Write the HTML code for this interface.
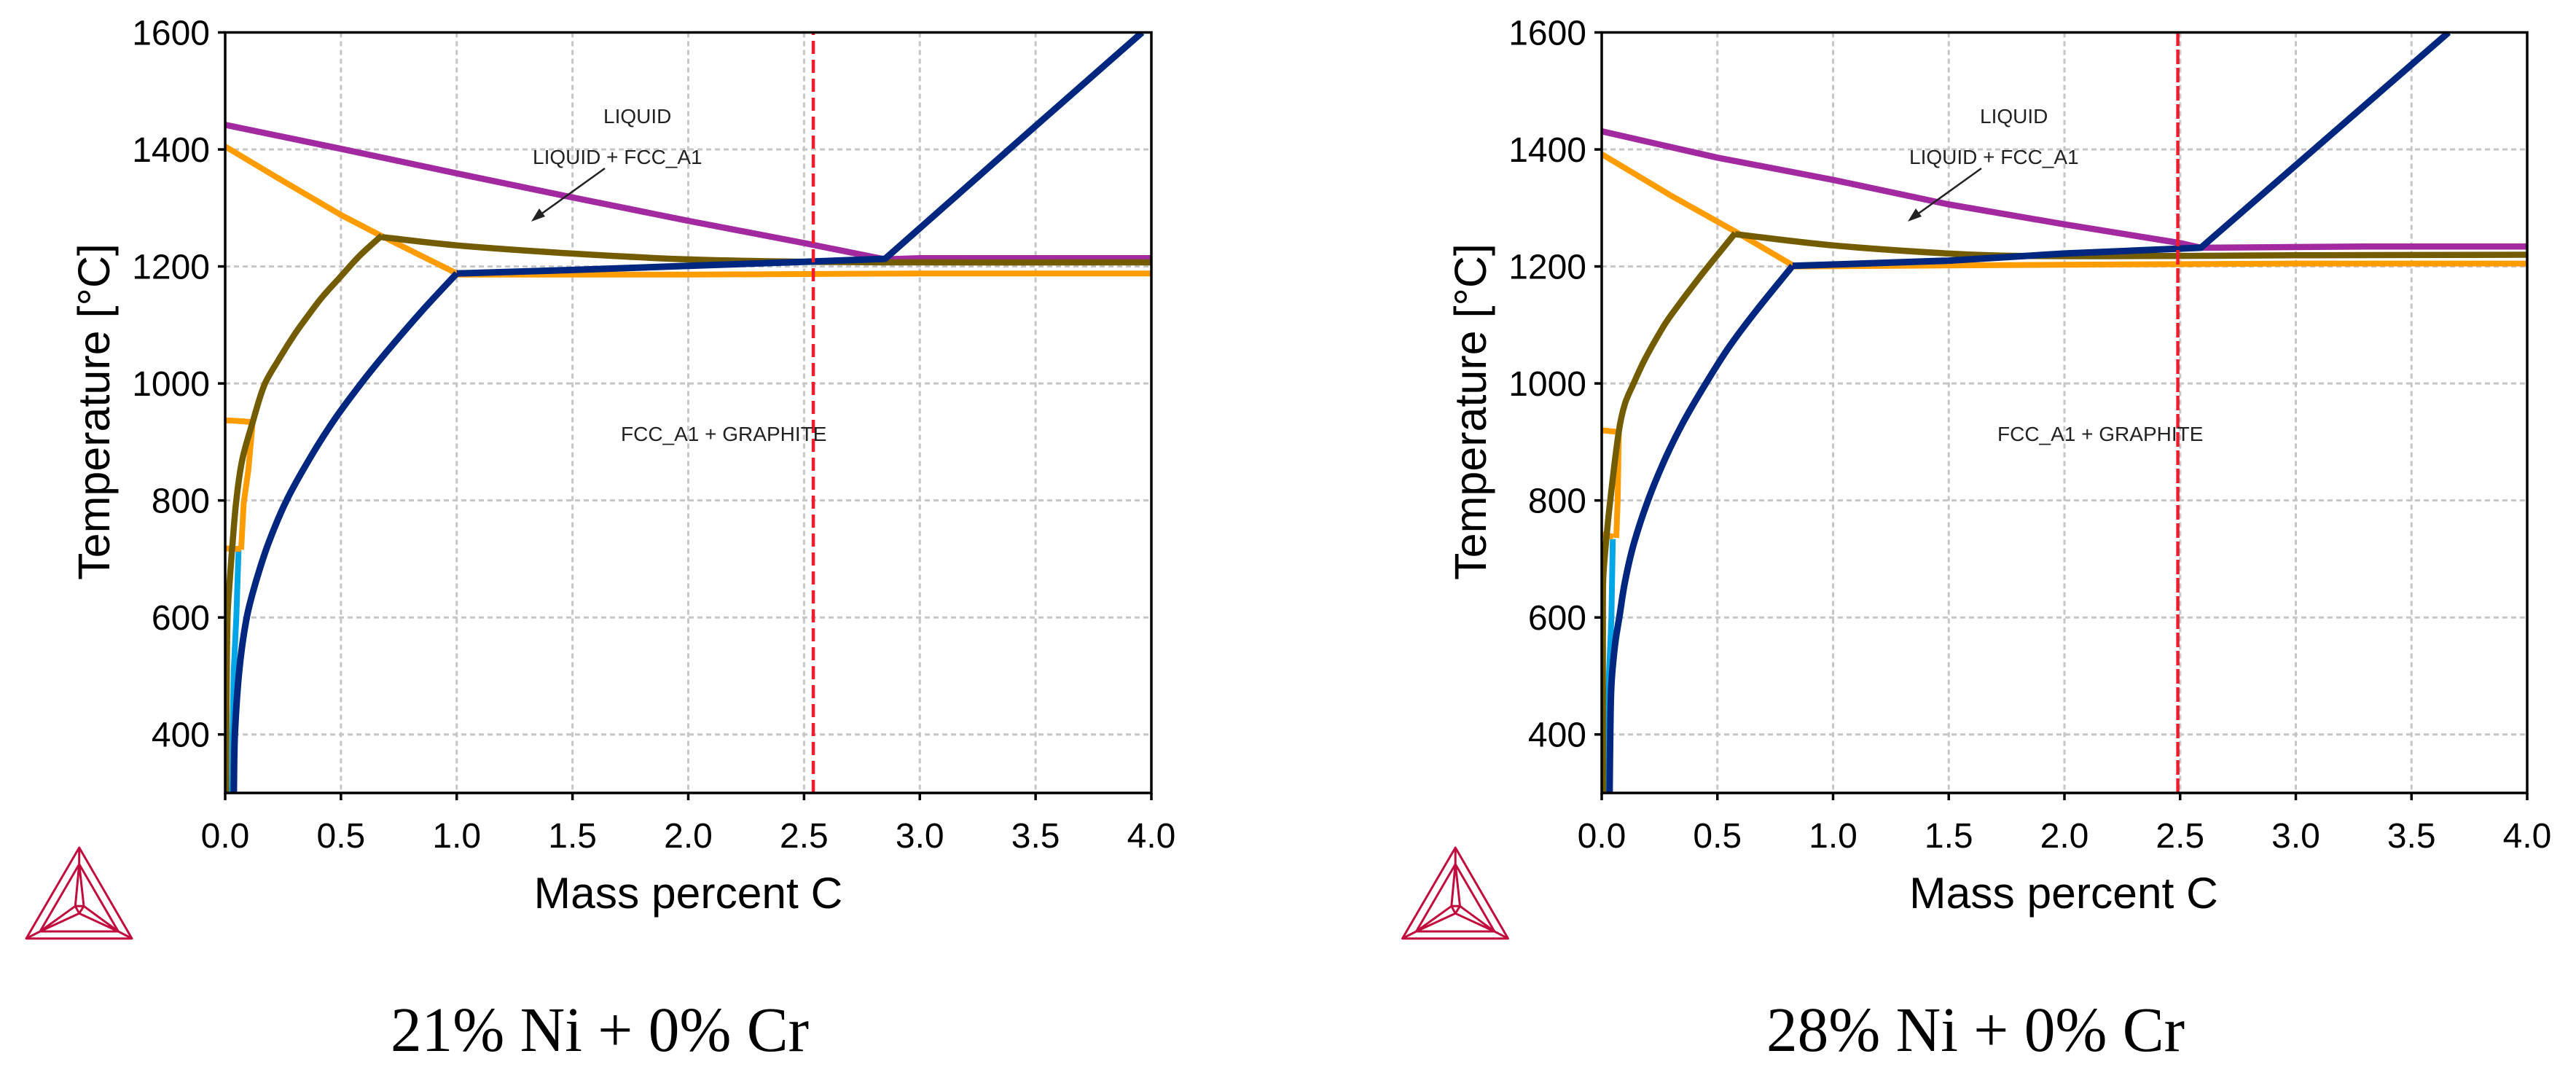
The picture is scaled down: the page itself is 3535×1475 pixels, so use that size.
<!DOCTYPE html>
<html lang="en">
<head>
<meta charset="utf-8">
<title>Phase diagrams: 21% Ni and 28% Ni</title>
<style>
html,body{margin:0;padding:0;background:#fff;}
svg{display:block;}
.tick{font-family:"Liberation Sans",Arial,sans-serif;font-size:48px;fill:#000;}
.axt{font-family:"Liberation Sans",Arial,sans-serif;fill:#000;}
.ann{font-family:"Liberation Sans",Arial,sans-serif;font-size:28px;fill:#222;}
.cap{font-family:"Liberation Serif",serif;font-size:87px;fill:#000;}
</style>
</head>
<body>
<svg id="figure" xmlns="http://www.w3.org/2000/svg" width="3535" height="1475" viewBox="0 0 3535 1475">
<rect width="3535" height="1475" fill="#fff"/>
<defs>
<clipPath id="clip-left"><rect x="309" y="44.5" width="1271" height="1043.5"/></clipPath>
<clipPath id="clip-right"><rect x="2198" y="44.5" width="1270" height="1043.5"/></clipPath>
</defs>
<g id="panel-left"></g>
<g id="panel-right"></g>

<g>
<text class="ann" x="828" y="169">LIQUID</text>
<text class="ann" x="731" y="225">LIQUID + FCC_A1</text>
<text class="ann" x="852" y="605">FCC_A1 + GRAPHITE</text>
<g>
<line x1="830" y1="231" x2="738" y2="297" stroke="#222" stroke-width="2.5"/>
<polygon points="729,304 748,297 740,286" fill="#222"/>
</g>
<text class="axt" x="944.5" y="1246" font-size="60.5" text-anchor="middle">Mass percent C</text>
<text class="axt" font-size="61" text-anchor="middle" transform="translate(150 565) rotate(-90)">Temperature [°C]</text>
<text class="cap" x="536" y="1442" textLength="574" lengthAdjust="spacingAndGlyphs">21% Ni + 0% Cr</text>
</g>

<g>
<text class="ann" x="2717" y="169">LIQUID</text>
<text class="ann" x="2620" y="225">LIQUID + FCC_A1</text>
<text class="ann" x="2741" y="605">FCC_A1 + GRAPHITE</text>
<g>
<line x1="2719" y1="231" x2="2627" y2="297" stroke="#222" stroke-width="2.5"/>
<polygon points="2618,304 2637,297 2629,286" fill="#222"/>
</g>
<text class="axt" x="2832" y="1246" font-size="60.5" text-anchor="middle">Mass percent C</text>
<text class="axt" font-size="61" text-anchor="middle" transform="translate(2039 565) rotate(-90)">Temperature [°C]</text>
<text class="cap" x="2424" y="1442" textLength="574" lengthAdjust="spacingAndGlyphs">28% Ni + 0% Cr</text>
</g>

<g id="logo-left" fill="none" stroke="#c00d3e" stroke-width="3" stroke-linejoin="round">
<polygon points="108.7,1163 36,1287.7 181,1287.7"/>
<polygon points="108.7,1185.7 55,1278 162.3,1278"/>
<path d="M108.7,1163L108.7,1185.7M36,1287.7L55,1278M181,1287.7L162.3,1278"/>
<polygon points="103.3,1243.3 115,1243.3 108.7,1253.3"/>
<path d="M108.7,1185.7L103.3,1243.3M108.7,1185.7L115,1243.3M55,1278L103.3,1243.3M55,1278L108.7,1253.3M162.3,1278L115,1243.3M162.3,1278L108.7,1253.3"/>
</g>
<g id="logo-right" fill="none" stroke="#c00d3e" stroke-width="3" stroke-linejoin="round" transform="translate(1888.5 0)">
<polygon points="108.7,1163 36,1287.7 181,1287.7"/>
<polygon points="108.7,1185.7 55,1278 162.3,1278"/>
<path d="M108.7,1163L108.7,1185.7M36,1287.7L55,1278M181,1287.7L162.3,1278"/>
<polygon points="103.3,1243.3 115,1243.3 108.7,1253.3"/>
<path d="M108.7,1185.7L103.3,1243.3M108.7,1185.7L115,1243.3M55,1278L103.3,1243.3M55,1278L108.7,1253.3M162.3,1278L115,1243.3M162.3,1278L108.7,1253.3"/>
</g>
</svg>

<script>
// Shared axis data
const xTickValues = [0, 0.5, 1, 1.5, 2, 2.5, 3, 3.5, 4];
const xTickLabels = ['0.0', '0.5', '1.0', '1.5', '2.0', '2.5', '3.0', '3.5', '4.0'];
const yTickValues = [400, 600, 800, 1000, 1200, 1400, 1600];
const yTickLabels = ['400', '600', '800', '1000', '1200', '1400', '1600'];
const xDomain = [0, 4];
const yDomain = [300, 1600];

// Left chart (21% Ni): mass percent C and temperature per boundary
const leftCyanC = [0.030, 0.032, 0.037, 0.048, 0.058];
const leftCyanT = [300, 400, 510, 600, 715];
const leftOrangeLiquidusC = [0, 0.22, 0.5, 0.68, 1.0];
const leftOrangeLiquidusT = [1405, 1353, 1288, 1251, 1188];
const leftOrangeFlatC = [1.0, 2.0, 2.5, 3.0, 4.0];
const leftOrangeFlatT = [1186, 1186, 1187, 1188, 1188];
const leftOrangeUpperStubC = [0, 0.05, 0.115];
const leftOrangeUpperStubT = [937, 936, 934];
const leftOrangeLowerStubC = [0, 0.068];
const leftOrangeLowerStubT = [718, 717];
const leftOrangeSteepC = [0.119, 0.1, 0.08, 0.069];
const leftOrangeSteepT = [934, 852, 795, 716];
const leftPurpleC = [0, 0.5, 1.0, 1.5, 2.0, 2.5, 2.85];
const leftPurpleT = [1442, 1401, 1359, 1318, 1278, 1240, 1212];
const leftPurpleFlatC = [2.85, 3.0, 4.0];
const leftPurpleFlatT = [1212, 1214, 1214];
const leftBrownC = [0.004, 0.005, 0.01, 0.02, 0.03, 0.048, 0.074, 0.119, 0.17, 0.23, 0.30, 0.358, 0.42, 0.495, 0.58, 0.677];
const leftBrownT = [300, 400, 600, 665, 717, 800, 870, 934, 998, 1040, 1084, 1116, 1148, 1181, 1218, 1253];
const leftBrownUpperC = [0.677, 1.0, 1.5, 2.0, 2.5, 2.85, 4.0];
const leftBrownUpperT = [1250, 1236, 1222, 1212, 1208, 1207, 1207];
const leftNavyC = [0.037, 0.042, 0.061, 0.093, 0.132, 0.185, 0.265, 0.37, 0.475, 0.593, 0.693, 0.85, 1.0];
const leftNavyT = [300, 400, 510, 600, 660, 725, 800, 875, 940, 1003, 1052, 1124, 1188];
const leftNavyUpperC = [1.0, 1.5, 2.0, 2.5, 2.85, 3.5, 3.96];
const leftNavyUpperT = [1188, 1194, 1201, 1208, 1213, 1440, 1600];
const leftIsoplethC = [2.54, 2.54];
const leftIsoplethT = [300, 1600];

// Right chart (28% Ni)
const rightCyanC = [0.020, 0.021, 0.032, 0.042, 0.048];
const rightCyanT = [300, 367, 508, 600, 734];
const rightOrangeLiquidusC = [0, 0.3, 0.58, 0.83];
const rightOrangeLiquidusT = [1392, 1321, 1259, 1201];
const rightOrangeFlatC = [0.83, 2.0, 3.0, 4.0];
const rightOrangeFlatT = [1200, 1203, 1205, 1205];
const rightOrangeUpperStubC = [0, 0.07];
const rightOrangeUpperStubT = [920, 917];
const rightOrangeLowerStubC = [0, 0.05];
const rightOrangeLowerStubT = [742, 738];
const rightOrangeSteepC = [0.074, 0.069, 0.063];
const rightOrangeSteepT = [917, 800, 736];
const rightPurpleC = [0, 0.5, 1.0, 1.5, 2.0, 2.5, 2.59];
const rightPurpleT = [1431, 1386, 1348, 1306, 1272, 1240, 1232];
const rightPurpleFlatC = [2.59, 3.3, 4.0];
const rightPurpleFlatT = [1232, 1234, 1234];
const rightBrownC = [0.005, 0.005, 0.007, 0.021, 0.037, 0.074, 0.1, 0.138, 0.185, 0.26, 0.302, 0.416, 0.577];
const rightBrownT = [300, 600, 670, 739, 800, 918, 965, 1000, 1040, 1093, 1118, 1178, 1257];
const rightBrownUpperC = [0.577, 1.0, 1.5, 1.8, 2.5, 3.0, 4.0];
const rightBrownUpperT = [1255, 1236, 1222, 1218, 1218, 1219, 1220];
const rightNavyC = [0.034, 0.037, 0.042, 0.058, 0.076, 0.10, 0.138, 0.2, 0.275, 0.35, 0.45, 0.55, 0.667, 0.825];
const rightNavyT = [300, 400, 485, 555, 600, 660, 725, 800, 872, 932, 1000, 1062, 1124, 1201];
const rightNavyUpperC = [0.825, 1.5, 2.0, 2.59, 3.66];
const rightNavyUpperT = [1201, 1210, 1222, 1232, 1600];
const rightIsoplethC = [2.49, 2.49];
const rightIsoplethT = [300, 1600];

const SVG_NS = 'http://www.w3.org/2000/svg';

function smoothPath(p) {
  // chord-scaled cubic segments so unevenly spaced readings do not overshoot
  const tangent = function (i) {
    const a = p[Math.max(i - 1, 0)];
    const b = p[Math.min(i + 1, p.length - 1)];
    const dx = b[0] - a[0];
    const dy = b[1] - a[1];
    const len = Math.hypot(dx, dy) || 1;
    return [dx / len, dy / len];
  };
  let d = 'M' + p[0][0].toFixed(1) + ',' + p[0][1].toFixed(1);
  for (let i = 0; i < p.length - 1; i++) {
    const seg = Math.hypot(p[i + 1][0] - p[i][0], p[i + 1][1] - p[i][1]) / 3;
    const t0 = tangent(i);
    const t1 = tangent(i + 1);
    d += 'C' + (p[i][0] + t0[0] * seg).toFixed(1) + ',' + (p[i][1] + t0[1] * seg).toFixed(1) + ' ' +
      (p[i + 1][0] - t1[0] * seg).toFixed(1) + ',' + (p[i + 1][1] - t1[1] * seg).toFixed(1) + ' ' +
      p[i + 1][0].toFixed(1) + ',' + p[i + 1][1].toFixed(1);
  }
  return d;
}

function drawPanel(panel) {
  const host = document.getElementById(panel.hostId);
  const sx = function (c) {
    return panel.left + (c - xDomain[0]) / (xDomain[1] - xDomain[0]) * (panel.right - panel.left);
  };
  const sy = function (t) {
    return panel.bottom - (t - yDomain[0]) / (yDomain[1] - yDomain[0]) * (panel.bottom - panel.top);
  };

  // grid
  xTickValues.forEach(function (v) {
    if (v === xDomain[0] || v === xDomain[1]) return;
    const g = document.createElementNS(SVG_NS, 'line');
    
    
    g.setAttribute('x1', sx(v));
    g.setAttribute('x2', sx(v));
    g.setAttribute('y1', panel.top);
    g.setAttribute('y2', panel.bottom);
    g.setAttribute('stroke', '#c6c6c6');
    g.setAttribute('stroke-width', '3');
    g.setAttribute('stroke-dasharray', '7 5');
    host.appendChild(g);
  });
  yTickValues.forEach(function (v) {
    if (v === yDomain[1]) return;
    const g = document.createElementNS(SVG_NS, 'line');
    
    
    g.setAttribute('x1', panel.left);
    g.setAttribute('x2', panel.right);
    g.setAttribute('y1', sy(v));
    g.setAttribute('y2', sy(v));
    g.setAttribute('stroke', '#c6c6c6');
    g.setAttribute('stroke-width', '3');
    g.setAttribute('stroke-dasharray', '7 5');
    host.appendChild(g);
  });

  // series
  const marks = document.createElementNS(SVG_NS, 'g');
  
  
  marks.setAttribute('clip-path', 'url(#' + panel.clipId + ')');
  host.appendChild(marks);
  panel.series.forEach(function (s) {
    const pts = s.c.map(function (c, i) {
      return [sx(c), sy(s.t[i])];
    });
    const line = document.createElementNS(SVG_NS, 'path');
    
    
    line.setAttribute('d', s.smooth ? smoothPath(pts) : 'M' + pts.map(function (q) {
      return q[0].toFixed(1) + ',' + q[1].toFixed(1);
    }).join('L'));
    line.setAttribute('fill', 'none');
    line.setAttribute('stroke', s.color);
    line.setAttribute('stroke-width', s.width);
    line.setAttribute('stroke-linejoin', 'round');
    if (s.dash) line.setAttribute('stroke-dasharray', s.dash);
    marks.appendChild(line);
  });

  // spines
  const frame = document.createElementNS(SVG_NS, 'rect');
  
  
  frame.setAttribute('x', panel.left);
  frame.setAttribute('y', panel.top);
  frame.setAttribute('width', panel.right - panel.left);
  frame.setAttribute('height', panel.bottom - panel.top);
  frame.setAttribute('fill', 'none');
  frame.setAttribute('stroke', '#000');
  frame.setAttribute('stroke-width', '3.5');
  host.appendChild(frame);

  // x ticks
  xTickValues.forEach(function (v, i) {
    const t = document.createElementNS(SVG_NS, 'line');
    
    
    t.setAttribute('x1', sx(v));
    t.setAttribute('x2', sx(v));
    t.setAttribute('y1', panel.bottom);
    t.setAttribute('y2', panel.bottom + 10);
    t.setAttribute('stroke', '#000');
    t.setAttribute('stroke-width', '3.5');
    host.appendChild(t);
    const label = document.createElementNS(SVG_NS, 'text');
    
    
    label.setAttribute('class', 'tick');
    label.setAttribute('x', sx(v));
    label.setAttribute('y', 1163);
    label.setAttribute('text-anchor', 'middle');
    label.textContent = xTickLabels[i];
    host.appendChild(label);
  });

  // y ticks
  yTickValues.forEach(function (v, i) {
    const t = document.createElementNS(SVG_NS, 'line');
    
    
    t.setAttribute('x1', panel.left - 10);
    t.setAttribute('x2', panel.left);
    t.setAttribute('y1', sy(v));
    t.setAttribute('y2', sy(v));
    t.setAttribute('stroke', '#000');
    t.setAttribute('stroke-width', '3.5');
    host.appendChild(t);
    const label = document.createElementNS(SVG_NS, 'text');
    
    
    label.setAttribute('class', 'tick');
    label.setAttribute('x', panel.left - 21);
    label.setAttribute('y', sy(v) + 17);
    label.setAttribute('text-anchor', 'end');
    label.textContent = yTickLabels[i];
    host.appendChild(label);
  });
}

const NAVY = '#00277f';
const BROWN = '#735c00';
const ORANGE = '#ff9c00';
const PURPLE = '#a329a1';
const CYAN = '#00a6e6';
const RED = '#f01c2c';

drawPanel({
  hostId: 'panel-left', clipId: 'clip-left', left: 309, right: 1580, top: 44.5, bottom: 1088,
  series: [
    { name: 'cyan-boundary-left', c: leftCyanC, t: leftCyanT, color: CYAN, width: 8 },
    { name: 'orange-liquidus-left', c: leftOrangeLiquidusC, t: leftOrangeLiquidusT, color: ORANGE, width: 8 },
    { name: 'orange-eutectic-left', c: leftOrangeFlatC, t: leftOrangeFlatT, color: ORANGE, width: 8 },
    { name: 'orange-upper-stub-left', c: leftOrangeUpperStubC, t: leftOrangeUpperStubT, color: ORANGE, width: 8 },
    { name: 'orange-lower-stub-left', c: leftOrangeLowerStubC, t: leftOrangeLowerStubT, color: ORANGE, width: 8 },
    { name: 'orange-steep-left', c: leftOrangeSteepC, t: leftOrangeSteepT, color: ORANGE, width: 8 },
    { name: 'purple-liquidus-left', c: leftPurpleC, t: leftPurpleT, color: PURPLE, width: 8.5 },
    { name: 'purple-flat-left', c: leftPurpleFlatC, t: leftPurpleFlatT, color: PURPLE, width: 8.5 },
    { name: 'brown-solvus-left', c: leftBrownC, t: leftBrownT, color: BROWN, width: 8.5, smooth: true },
    { name: 'brown-upper-left', c: leftBrownUpperC, t: leftBrownUpperT, color: BROWN, width: 8.5, smooth: true },
    { name: 'navy-solvus-left', c: leftNavyC, t: leftNavyT, color: NAVY, width: 9, smooth: true },
    { name: 'navy-upper-left', c: leftNavyUpperC, t: leftNavyUpperT, color: NAVY, width: 9 },
    { name: 'red-isopleth-left', c: leftIsoplethC, t: leftIsoplethT, color: RED, width: 4.5, dash: '18 8' }
  ]
});

drawPanel({
  hostId: 'panel-right', clipId: 'clip-right', left: 2198, right: 3468, top: 44.5, bottom: 1088,
  series: [
    { name: 'cyan-boundary-right', c: rightCyanC, t: rightCyanT, color: CYAN, width: 8 },
    { name: 'orange-liquidus-right', c: rightOrangeLiquidusC, t: rightOrangeLiquidusT, color: ORANGE, width: 8 },
    { name: 'orange-eutectic-right', c: rightOrangeFlatC, t: rightOrangeFlatT, color: ORANGE, width: 8 },
    { name: 'orange-upper-stub-right', c: rightOrangeUpperStubC, t: rightOrangeUpperStubT, color: ORANGE, width: 8 },
    { name: 'orange-lower-stub-right', c: rightOrangeLowerStubC, t: rightOrangeLowerStubT, color: ORANGE, width: 8 },
    { name: 'orange-steep-right', c: rightOrangeSteepC, t: rightOrangeSteepT, color: ORANGE, width: 8 },
    { name: 'purple-liquidus-right', c: rightPurpleC, t: rightPurpleT, color: PURPLE, width: 8.5 },
    { name: 'purple-flat-right', c: rightPurpleFlatC, t: rightPurpleFlatT, color: PURPLE, width: 8.5 },
    { name: 'brown-solvus-right', c: rightBrownC, t: rightBrownT, color: BROWN, width: 8.5, smooth: true },
    { name: 'brown-upper-right', c: rightBrownUpperC, t: rightBrownUpperT, color: BROWN, width: 8.5, smooth: true },
    { name: 'navy-solvus-right', c: rightNavyC, t: rightNavyT, color: NAVY, width: 9, smooth: true },
    { name: 'navy-upper-right', c: rightNavyUpperC, t: rightNavyUpperT, color: NAVY, width: 9 },
    { name: 'red-isopleth-right', c: rightIsoplethC, t: rightIsoplethT, color: RED, width: 4.5, dash: '20 5' }
  ]
});
</script>
</body>
</html>
